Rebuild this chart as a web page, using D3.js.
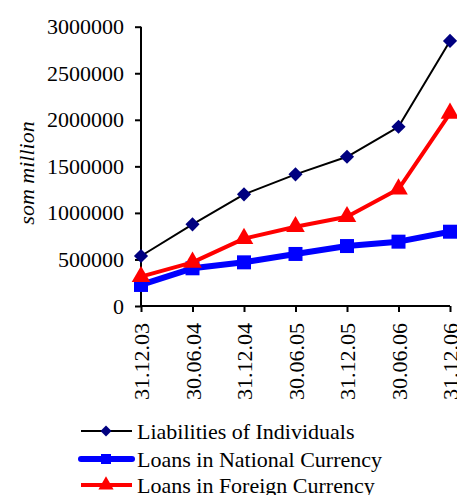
<!DOCTYPE html>
<html><head><meta charset="utf-8">
<script src="https://cdn.jsdelivr.net/npm/d3@7"></script>
<style>body{margin:0;background:#fff}svg{display:block}text{font-family:"Liberation Serif","Times New Roman",serif;fill:#000}</style>
</head><body>
<script>
const categories = ["31.12.03","30.06.04","31.12.04","30.06.05","31.12.05","30.06.06","31.12.06"];
const liabilities = [537000, 877000, 1199000, 1414000, 1603000, 1925000, 2847000];
const loansNational = [226000, 405000, 469000, 559000, 644000, 691000, 798000];
const loansForeign = [315000, 469000, 724000, 852000, 959000, 1256000, 2070000];
const yTicks = [0, 500000, 1000000, 1500000, 2000000, 2500000, 3000000];
const seriesNames = ["Liabilities of Individuals","Loans in National Currency","Loans in Foreign Currency"];

const W = 457, H = 495;
const svg = d3.select("body").append("svg").attr("width", W).attr("height", H);
const x = d3.scalePoint().domain(categories).range([141, 450]);
const y = d3.scaleLinear().domain([0, 3000000]).range([306, 26.7]);

const fs = 22;
const yAxis = svg.append("g").attr("transform","translate(141,0)")
  .call(d3.axisLeft(y).tickValues(yTicks).tickSize(6).tickPadding(11).tickFormat(d3.format("d")));
const xAxis = svg.append("g").attr("transform","translate(0,306)")
  .call(d3.axisBottom(x).tickSize(6).tickPadding(8));
[yAxis, xAxis].forEach(g => {
  g.selectAll("path").attr("stroke","#000").attr("stroke-width",2);
  g.selectAll("line").attr("stroke","#000").attr("stroke-width",2);
  g.selectAll("text").style("font-size", fs+"px").style("font-family",'"Liberation Serif",serif').attr("fill","#000");
});
xAxis.select(".domain").attr("d","M141,0H450");
yAxis.select(".domain").attr("d","M0,306V26.7");
xAxis.selectAll(".tick text")
  .attr("transform","rotate(-90)")
  .attr("text-anchor","end")
  .attr("dy","0.35em")
  .attr("x",-17).attr("y",0);

svg.append("text").attr("transform","translate(26,173) rotate(-90)")
  .attr("text-anchor","middle").attr("dy","0.35em")
  .style("font-size", fs+"px").style("font-style","italic").text("som million");

const line = d3.line().x((d,i)=>x(categories[i])).y(d=>y(d));
const series = [
  {vals: liabilities, stroke:"#000", sw:2, mark:"diamond", mcol:"#000080", size:100},
  {vals: loansNational, stroke:"#0000FF", sw:6, mark:"square", mcol:"#0000FF", size:196},
  {vals: loansForeign, stroke:"#FF0000", sw:4, mark:"triangle", mcol:"#FF0000", size:150}
];
const symType = {diamond: d3.symbolSquare, square: d3.symbolSquare, triangle: d3.symbolTriangle};
series.forEach(s => {
  svg.append("path").datum(s.vals).attr("d", line).attr("fill","none")
    .attr("stroke", s.stroke).attr("stroke-width", s.sw).attr("stroke-linejoin","round");
  svg.append("g").selectAll("path").data(s.vals).join("path")
    .attr("d", d3.symbol().type(symType[s.mark]).size(s.size)())
    .attr("transform",(d,i)=>`translate(${x(categories[i])},${y(d)})` + (s.mark==="diamond" ? " rotate(45)" : ""))
    .attr("fill", s.mcol);
});

// legend
const ly = [431, 459, 485];
series.forEach((s,i) => {
  const g = svg.append("g");
  g.append("line").attr("x1",81).attr("x2",132).attr("y1",ly[i]).attr("y2",ly[i])
    .attr("stroke",s.stroke).attr("stroke-width",s.sw).attr("stroke-linecap", i===1 ? "round":"butt");
  g.append("path").attr("d", d3.symbol().type(symType[s.mark]).size(s.mark==="diamond"?60:100)())
    .attr("transform",`translate(106,${ly[i]})`+(s.mark==="diamond"?" rotate(45)":"")).attr("fill",s.mcol);
  g.append("text").attr("x",137).attr("y",ly[i]).attr("dy","0.35em")
    .style("font-size", fs+"px").text(seriesNames[i]);
});
</script>
</body></html>
